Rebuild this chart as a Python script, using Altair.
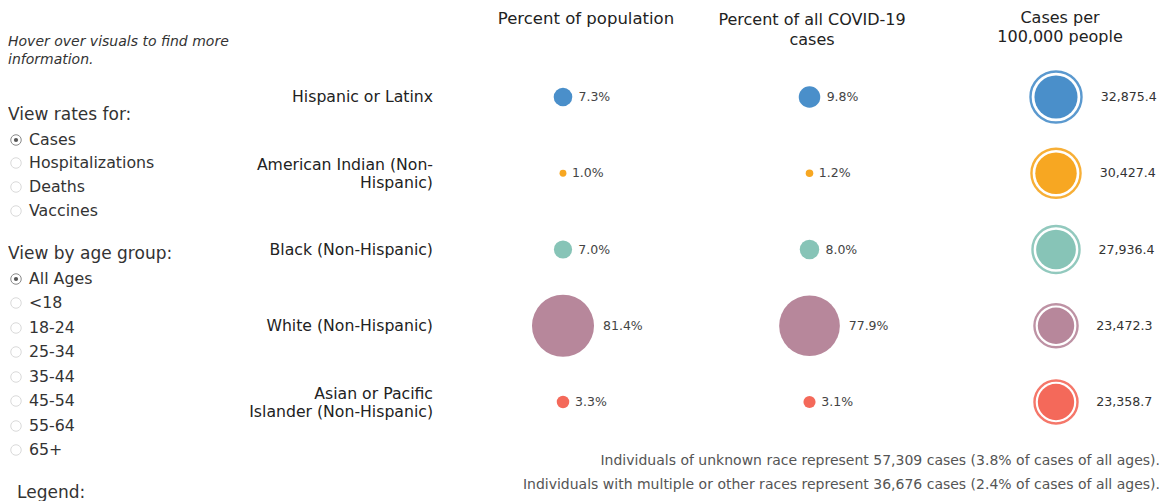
import math
import altair as alt
import pandas as pd

# ---------------- data ----------------
RACES = [
    "Hispanic or Latinx",
    "American Indian (Non-Hispanic)",
    "Black (Non-Hispanic)",
    "White (Non-Hispanic)",
    "Asian or Pacific Islander (Non-Hispanic)",
]
RACE_LABELS = [
    "Hispanic or Latinx",
    "American Indian (Non-\nHispanic)",
    "Black (Non-Hispanic)",
    "White (Non-Hispanic)",
    "Asian or Pacific\nIslander (Non-Hispanic)",
]
PCT_POP = [7.3, 1.0, 7.0, 81.4, 3.3]
PCT_CASES = [9.8, 1.2, 8.0, 77.9, 3.1]
RATE = [32875.4, 30427.4, 27936.4, 23472.3, 23358.7]
COLORS = ["#4a8fca", "#f7a722", "#87c4b7", "#b7879b", "#f4695a"]
COLUMN_KEYS = ["pop", "cases", "rate"]
HEADERS = ["Percent of population", "Percent of all COVID-19\ncases", "Cases per\n100,000 people"]
HINT = "Hover over visuals to find more\ninformation."
RATE_TITLE = "View rates for:"
RATE_OPTIONS = ["Cases", "Hospitalizations", "Deaths", "Vaccines"]
AGE_TITLE = "View by age group:"
AGE_OPTIONS = ["All Ages", "<18", "18-24", "25-34", "35-44", "45-54", "55-64", "65+"]
LEGEND_TITLE = "Legend:"
NOTES = [
    "Individuals of unknown race represent 57,309 cases (3.8% of cases of all ages).",
    "Individuals with multiple or other races represent 36,676 cases (2.4% of cases of all ages).",
]

pct_df = pd.DataFrame({
    "race": RACES * 2,
    "col": ["pop"] * len(RACES) + ["cases"] * len(RACES),
    "value": PCT_POP + PCT_CASES,
})
pct_df["label"] = pct_df["value"].map(lambda v: f"{v:.1f}%")
rate_df = pd.DataFrame({"race": RACES, "col": "rate", "value": RATE})
rate_df["label"] = rate_df["value"].map(lambda v: f"{v:,.1f}")
label_df = pd.DataFrame({"race": RACES, "label": RACE_LABELS})
label_df["multi"] = label_df["label"].str.contains("\n")

FONT = "DejaVu Sans"

# ---------------- shared encodings ----------------
X = alt.X("col:N", scale=alt.Scale(type="point", domain=COLUMN_KEYS, range=[555, 1048], padding=0), axis=None)
Y = alt.Y("race:N", scale=alt.Scale(type="point", domain=RACES, range=[89, 394], padding=0), axis=None)
C = alt.Color("race:N", scale=alt.Scale(domain=RACES, range=COLORS), legend=None)

PMAX = max(PCT_POP + PCT_CASES)
RMAX = max(RATE)

pct_circles = alt.Chart(pct_df).mark_circle(opacity=1).encode(
    x=X, y=Y, color=C,
    size=alt.Size("value:Q", scale=alt.Scale(domain=[0, PMAX], range=[0, math.pi * 35 ** 2]), legend=None),
)
pct_text = alt.Chart(pct_df).mark_text(align="left", baseline="middle", fontSize=12.5, font=FONT, color="#444").encode(
    x=X, y=Y, text="label:N",
    xOffset=alt.XOffset("value:Q", scale=alt.Scale(type="sqrt", domain=[0, PMAX], range=[5, 40])),
)
rate_ring = alt.Chart(rate_df).mark_point(shape="circle", filled=False, strokeWidth=2.4, opacity=0.9).encode(
    x=X, y=Y, color=C,
    size=alt.Size("value:Q", scale=alt.Scale(domain=[0, RMAX], range=[0, math.pi * 28.8 ** 2]), legend=None),
)
rate_fill = alt.Chart(rate_df).mark_circle(opacity=1).encode(
    x=X, y=Y, color=C,
    size=alt.Size("value:Q", scale=alt.Scale(domain=[0, RMAX], range=[0, math.pi * 24.3 ** 2]), legend=None),
)
rate_text = alt.Chart(rate_df).mark_text(align="left", baseline="middle", fontSize=12.6, font=FONT, color="#333").encode(
    x=X, y=Y, text="label:N",
    xOffset=alt.XOffset("value:Q", scale=alt.Scale(type="sqrt", domain=[0, RMAX], range=[16, 44.8])),
)
row_single = alt.Chart(label_df).transform_filter("!datum.multi").mark_text(
    align="right", baseline="middle", lineBreak="\n", lineHeight=18, fontSize=15.7, font=FONT, color="#222"
).encode(x=alt.value(425), y=Y, text="label:N")
row_multi = alt.Chart(label_df).transform_filter("datum.multi").mark_text(
    align="right", baseline="middle", lineBreak="\n", lineHeight=18, fontSize=15.7, font=FONT, color="#222", dy=-8
).encode(x=alt.value(425), y=Y, text="label:N")


def txt(text, x, y, **kw):
    style = dict(font=FONT, color="#333", baseline="middle", lineBreak="\n")
    style.update(kw)
    return alt.Chart(alt.Data(values=[{"t": text}])).mark_text(**style).encode(
        x=alt.value(x), y=alt.value(y), text="t:N"
    )


def radio(x, y, selected):
    ring = alt.Chart(alt.Data(values=[{"s": selected}])).mark_point(
        shape="circle", filled=False, size=110, strokeWidth=1,
        color="#8a8a8a" if selected else "#dadada", opacity=1,
    ).encode(x=alt.value(x), y=alt.value(y))
    if not selected:
        return [ring]
    dot = alt.Chart(alt.Data(values=[{"s": selected}])).mark_circle(size=18, color="#555", opacity=1).encode(
        x=alt.value(x), y=alt.value(y)
    )
    return [ring, dot]


layers = [pct_circles, pct_text, rate_ring, rate_fill, rate_text, row_single, row_multi]

# headers (first line position given; later lines follow below)
layers.append(txt(HEADERS[0], 578, 11, align="center", fontSize=16.5, color="#222"))
layers.append(txt(HEADERS[1], 804, 12, align="center", fontSize=16, color="#222", lineHeight=20))
layers.append(txt(HEADERS[2], 1052, 10, align="center", fontSize=16, color="#222", lineHeight=19))

# left panel
layers.append(txt(HINT, 0, 34, align="left", fontSize=14, fontStyle="italic", color="#333", lineHeight=18))
layers.append(txt(RATE_TITLE, 0, 107, align="left", fontSize=17, color="#333"))
RATE_Y = [132, 155, 179, 203]
for i, (opt, yy) in enumerate(zip(RATE_OPTIONS, RATE_Y)):
    layers += radio(8, yy, i == 0)
    layers.append(txt(opt, 21, yy, align="left", fontSize=15.8, color="#333"))
layers.append(txt(AGE_TITLE, 0, 246, align="left", fontSize=17, color="#333"))
AGE_Y = [271, 295, 320, 344, 369, 393, 418, 442]
for i, (opt, yy) in enumerate(zip(AGE_OPTIONS, AGE_Y)):
    layers += radio(8, yy, i == 0)
    layers.append(txt(opt, 21, yy, align="left", fontSize=15.8, color="#333"))
layers.append(txt(LEGEND_TITLE, 9, 485, align="left", fontSize=17, color="#333"))

# footnotes
layers.append(txt(NOTES[0], 1152, 453, align="right", fontSize=14, color="#555"))
layers.append(txt(NOTES[1], 1152, 477, align="right", fontSize=14, color="#555"))

chart = alt.layer(*layers).resolve_scale(size="independent", xOffset="independent").properties(
    width=1151, height=493, padding=0,
    autosize=alt.AutoSizeParams(type="none"),
    background="white",
).configure_view(stroke=None)

chart.save("out.html", embed_options={"renderer": "svg", "actions": False})
